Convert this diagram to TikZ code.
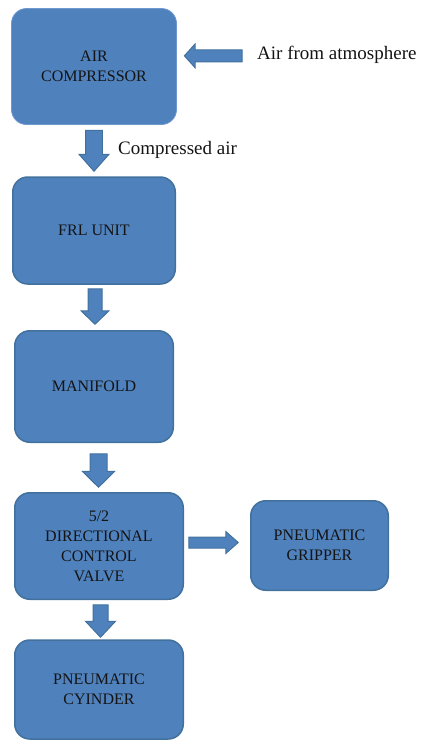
\documentclass[tikz,border=0pt]{standalone}
\usepackage{fontspec}
\setmainfont{Liberation Serif}
\usetikzlibrary{calc}
\definecolor{boxfill}{HTML}{4F81BD}
\definecolor{boxline}{HTML}{41719C}
\definecolor{compline}{HTML}{6F98CE}
\definecolor{txt}{HTML}{141414}
\tikzset{
  blk sw/.store in=\blksw,
  blk hw/.store in=\blkhw,
  blk hl/.store in=\blkhl,
  blk sw=8pt, blk hw=15pt, blk hl=16pt,
  box/.style={rectangle, rounded corners=15pt, fill=boxfill, draw=boxline,
    line width=1.5pt, inner sep=0pt, align=center, text=txt,
    font=\fontsize{16}{20}\selectfont},
  lbl/.style={inner sep=0pt, text=txt, font=\fontsize{19}{23}\selectfont},
  vblk/.style={fill=boxfill, draw=boxline, line width=1pt,
    to path={let \p1=(\tikztostart), \p2=(\tikztotarget),
      \p3=($(\p2)!\blkhl!(\p1)$) in
      (\x1-\blksw,\y1) -- (\x1+\blksw,\y1) -- (\x1+\blksw,\y3) -- (\x1+\blkhw,\y3)
      -- (\x1,\y2) -- (\x1-\blkhw,\y3) -- (\x1-\blksw,\y3) -- cycle}},
  hblk/.style={fill=boxfill, draw=boxline, line width=1pt,
    to path={let \p1=(\tikztostart), \p2=(\tikztotarget),
      \p3=($(\p2)!\blkhl!(\p1)$) in
      (\x1,\y1+\blksw) -- (\x3,\y1+\blksw) -- (\x3,\y1+\blkhw) -- (\x2,\y1)
      -- (\x3,\y1-\blkhw) -- (\x3,\y1-\blksw) -- (\x1,\y1-\blksw) -- cycle}},
}
\begin{document}
\begin{tikzpicture}[x=1pt,y=-1pt]
\useasboundingbox (0,0) rectangle (421,740);
\node[box, draw=compline, line width=0.8pt, minimum width=165pt, minimum height=116pt] (comp) at (94,66.5) {AIR\\COMPRESSOR};
\node[box, minimum width=162.5pt, minimum height=107pt] (frl) at (94,230.5) {FRL UNIT};
\node[box, minimum width=158.5pt, minimum height=111.5pt] (man) at (94,386.5) {MANIFOLD};
\node[box, minimum width=168.5pt, minimum height=106.5pt] (dcv) at (99,546) {5/2\\DIRECTIONAL\\CONTROL\\VALVE};
\node[box, minimum width=137.5pt, minimum height=89.5pt] (grip) at (319.5,545.5) {PNEUMATIC\\GRIPPER};
\node[box, minimum width=168.5pt, minimum height=99pt] (cyl) at (99,689.5) {PNEUMATIC\\CYINDER};
\node[lbl, anchor=base west] (air) at (257,59) {Air from atmosphere};
\node[lbl, anchor=base west] (cair) at (118,154) {Compressed air};
\draw[hblk, blk sw=6pt, blk hw=12pt, blk hl=11pt] ([xshift=-15pt,yshift=-1.5pt]air.west) to ([xshift=7.5pt]comp.east);
\draw[vblk, blk sw=8.3pt, blk hw=15pt, blk hl=17pt] ([yshift=-5.5pt]comp.south) to ([yshift=5pt]frl.north);
\draw[vblk, blk sw=7pt, blk hw=14pt, blk hl=13.5pt] ([xshift=1pt,yshift=-4pt]frl.south) to ([xshift=1pt,yshift=5.75pt]man.north);
\draw[vblk, blk sw=8.5pt, blk hw=16pt, blk hl=16pt] ([xshift=4.5pt,yshift=-10.75pt]man.south) to ([xshift=4.5pt,yshift=4.75pt]dcv.north);
\draw[vblk, blk sw=7.5pt, blk hw=15pt, blk hl=16pt] ([xshift=1.5pt,yshift=-4.75pt]dcv.south) to ([xshift=1.5pt,yshift=2pt]cyl.north);
\draw[hblk, blk sw=5.5pt, blk hw=11pt, blk hl=12.5pt] ([xshift=4.75pt,yshift=3.5pt]dcv.east) to ([xshift=-11.75pt,yshift=3.5pt]grip.west);
\end{tikzpicture}
\end{document}
